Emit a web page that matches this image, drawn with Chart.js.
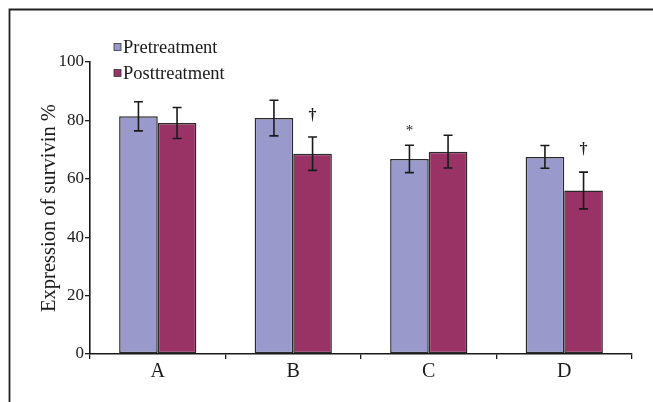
<!DOCTYPE html>
<html>
<head>
<meta charset="utf-8">
<script src="https://cdn.jsdelivr.net/npm/chart.js@4.4.1/dist/chart.umd.min.js"></script>
<style>
  html, body { margin: 0; padding: 0; background: #fff; }
  #wrap { position: relative; width: 653px; height: 402px; }
</style>
</head>
<body>
<div id="wrap"><canvas id="survivinChart"></canvas></div>
<script>
// groups and values
const groups       = ["A", "B", "C", "D"];
const preValues    = [81.4, 80.8, 66.8, 67.5];
const preErrors    = [5.0, 6.1, 4.7, 3.9];
const postValues   = [79.1, 68.6, 69.3, 56.0];
const postErrors   = [5.3, 5.7, 5.6, 6.3];
const seriesNames  = ["Pretreatment", "Posttreatment"];
const yTicks       = [0, 20, 40, 60, 80, 100];
// significance marks: [dataset, group, text, value where the mark sits]
const marks = [
    [1, 1, "\u2020", 81.5],
    [0, 2, "*", 77.5],
    [1, 3, "\u2020", 70.0]
];

const SERIF = "'Liberation Serif', 'Times New Roman', serif";
const INK   = "#1a1a1a";

// frame line on the left and top of the figure
const framePlugin = {
    id: "frame",
    beforeDraw(chart) {
        const ctx = chart.ctx;
        ctx.save();
        ctx.fillStyle = "#fff";
        ctx.fillRect(0, 0, chart.width, chart.height);
        ctx.strokeStyle = "#222";
        ctx.lineWidth = 1.8;
        ctx.beginPath();
        ctx.moveTo(9.5, chart.height);
        ctx.lineTo(9.5, 9.5);
        ctx.lineTo(chart.width, 9.5);
        ctx.stroke();
        ctx.restore();
    }
};

// error bars plus the dagger / asterisk marks
const errorBarPlugin = {
    id: "errorBars",
    afterDatasetsDraw(chart) {
        const ctx = chart.ctx;
        const y = chart.scales.y;
        const errs = [preErrors, postErrors];
        ctx.save();
        ctx.strokeStyle = INK;
        ctx.lineWidth = 1.6;
        chart.data.datasets.forEach((ds, di) => {
            chart.getDatasetMeta(di).data.forEach((bar, i) => {
                const v = ds.data[i], e = errs[di][i];
                const yt = y.getPixelForValue(v + e);
                const yb = y.getPixelForValue(v - e);
                ctx.beginPath();
                ctx.moveTo(bar.x, yt); ctx.lineTo(bar.x, yb);
                ctx.moveTo(bar.x - 4.5, yt); ctx.lineTo(bar.x + 4.5, yt);
                ctx.moveTo(bar.x - 4.5, yb); ctx.lineTo(bar.x + 4.5, yb);
                ctx.stroke();
            });
        });
        ctx.fillStyle = INK;
        ctx.textAlign = "center";
        ctx.textBaseline = "middle";
        marks.forEach(([di, gi, txt, val]) => {
            const bar = chart.getDatasetMeta(di).data[gi];
            ctx.font = (txt === "*" ? "15px " : "bold 16px ") + SERIF;
            ctx.fillText(txt, bar.x, y.getPixelForValue(val) + (txt === "*" ? 3 : 0));
        });
        ctx.restore();
    }
};

// legend drawn as in the figure: small squares, stacked top-left
const legendPlugin = {
    id: "squareLegend",
    afterDraw(chart) {
        const ctx = chart.ctx;
        ctx.save();
        ctx.font = "18.5px " + SERIF;
        ctx.textBaseline = "middle";
        chart.data.datasets.forEach((ds, i) => {
            const ly = 47 + i * 26;
            ctx.fillStyle = ds.backgroundColor;
            ctx.fillRect(114, ly - 3.5, 7, 7);
            ctx.strokeStyle = "#333";
            ctx.lineWidth = 0.8;
            ctx.strokeRect(114, ly - 3.5, 7, 7);
            ctx.fillStyle = INK;
            ctx.fillText(ds.label, 123, ly + 1);
        });
        ctx.restore();
    }
};

new Chart(document.getElementById("survivinChart"), {
    type: "bar",
    data: {
        labels: groups,
        datasets: [
            {
                label: seriesNames[0],
                data: preValues,
                backgroundColor: "#9999cc",
                borderColor: "#2a2a2a",
                borderWidth: 1.5,
                borderSkipped: false
            },
            {
                label: seriesNames[1],
                data: postValues,
                backgroundColor: "#993366",
                borderColor: "#2a2a2a",
                borderWidth: 1.5,
                borderSkipped: false
            }
        ]
    },
    options: {
        responsive: true,
        maintainAspectRatio: false,
        animation: false,
        categoryPercentage: 0.57,
        barPercentage: 1.0,
        layout: { padding: { top: 62, right: 21, bottom: 0, left: 37 } },
        plugins: {
            legend: { display: false },
            tooltip: { enabled: false }
        },
        scales: {
            x: {
                afterFit(axis) { axis.height = 48; },
                grid: {
                    offset: true,
                    drawOnChartArea: false,
                    tickLength: 5,
                    color: INK,
                    lineWidth: 1.3
                },
                border: { display: true, color: INK, width: 1.6 },
                ticks: {
                    color: INK,
                    font: { family: SERIF, size: 20 },
                    padding: 1
                }
            },
            y: {
                min: 0,
                max: 100,
                afterFit(axis) { axis.width = 53; },
                afterBuildTicks(axis) { axis.ticks = yTicks.map(v => ({ value: v })); },
                grid: {
                    drawOnChartArea: false,
                    tickLength: 5,
                    color: INK,
                    lineWidth: 1.3
                },
                border: { display: true, color: INK, width: 1.6 },
                ticks: {
                    color: INK,
                    font: { family: SERIF, size: 17 },
                    padding: 1
                },
                title: {
                    display: true,
                    text: "Expression of survivin %",
                    color: INK,
                    font: { family: SERIF, size: 20.5 },
                    padding: { top: 0, bottom: 2 }
                }
            }
        }
    },
    plugins: [framePlugin, errorBarPlugin, legendPlugin]
});
</script>
</body>
</html>
